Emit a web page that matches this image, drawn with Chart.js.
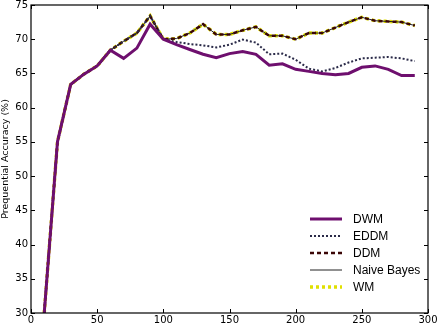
<!DOCTYPE html>
<html>
<head>
<meta charset="utf-8">
<script src="https://cdn.jsdelivr.net/npm/chart.js@4/dist/chart.umd.min.js"></script>
<style>
html,body{margin:0;padding:0;background:#fff;}
#wrap{width:440px;height:325px;}
</style>
</head>
<body>
<div id="wrap"><canvas id="c" width="440" height="325"></canvas></div>
<script>
const steps = [10,20,30,40,50,60,70,80,90,100,110,120,130,140,150,160,170,180,190,200,210,220,230,240,250,260,270,280,290];
const dwm  = [30,55,63.4,64.9,66.1,68.4,67.2,68.7,72.2,70.0,69.2,68.5,67.8,67.3,67.9,68.2,67.8,66.2,66.4,65.6,65.3,65.0,64.8,65.0,65.9,66.1,65.6,64.7,64.7];
const eddm = [30,55,63.4,64.9,66.1,68.4,69.7,70.9,73.4,70.0,69.6,69.3,69.1,68.8,69.2,69.95,69.5,67.8,67.9,67.0,65.7,65.3,65.8,66.6,67.2,67.3,67.4,67.2,66.8];
const ddm  = [30,55,63.4,64.9,66.1,68.4,69.7,70.9,73.4,70.0,70.1,70.9,72.2,70.7,70.7,71.3,71.8,70.5,70.5,70.0,70.9,70.9,71.7,72.5,73.2,72.7,72.6,72.5,72.0];
const naiveBayes = [30,55,63.4,64.9,66.1,68.4,69.7,70.9,73.4,70.0,70.1,70.9,72.2,70.7,70.7,71.3,71.8,70.5,70.5,70.0,70.9,70.9,71.7,72.5,73.2,72.7,72.6,72.5,72.0];
const wm   = [30,55,63.4,64.9,66.1,68.4,69.7,70.9,73.4,70.0,70.1,70.9,72.2,70.7,70.7,71.3,71.8,70.5,70.5,70.0,70.9,70.9,71.7,72.5,73.2,72.7,72.6,72.5,72.0];
const xTicks = [0,50,100,150,200,250,300];
const yTicks = [30,35,40,45,50,55,60,65,70,75];
const seriesNames = ['DWM','EDDM','DDM','Naive Bayes','WM'];

const pts = arr => arr.map((v,i)=>({x:steps[i], y:v}));

const frameTicks = {
  id:'frameTicks',
  afterDatasetsDraw(chart){
    const {ctx, chartArea:a, scales:{x,y}} = chart;
    ctx.save();
    ctx.strokeStyle='#000'; ctx.lineWidth=1;
    const L=4;
    ctx.beginPath();
    xTicks.forEach(v=>{
      const px=Math.round(x.getPixelForValue(v))+0.5;
      ctx.moveTo(px,a.bottom); ctx.lineTo(px,a.bottom-L);
      ctx.moveTo(px,a.top); ctx.lineTo(px,a.top+L);
    });
    yTicks.forEach(v=>{
      const py=Math.round(y.getPixelForValue(v))+0.5;
      ctx.moveTo(a.left,py); ctx.lineTo(a.left+L,py);
      ctx.moveTo(a.right,py); ctx.lineTo(a.right-L,py);
    });
    ctx.stroke();
    ctx.lineWidth=1.2;
    ctx.strokeRect(a.left,a.top,a.right-a.left,a.bottom-a.top);
    ctx.restore();
  }
};

const innerLegend = {
  id:'innerLegend',
  afterDraw(chart){
    const {ctx, chartArea:a} = chart;
    ctx.save();
    const x0=a.left+279, x1=x0+32, tx=x1+11;
    let yy=a.top+214;
    chart.data.datasets.forEach(ds=>{
      ctx.strokeStyle=ds.borderColor;
      ctx.lineWidth=ds.borderWidth;
      ctx.setLineDash(ds.borderDash||[]);
      ctx.beginPath(); ctx.moveTo(x0,yy); ctx.lineTo(x1,yy); ctx.stroke();
      ctx.setLineDash([]);
      ctx.fillStyle='#000';
      ctx.font='12px "Liberation Sans", Arial, sans-serif';
      ctx.textBaseline='middle';
      ctx.fillText(ds.label,tx,yy+1);
      yy+=17;
    });
    ctx.restore();
  }
};

new Chart(document.getElementById('c'),{
  type:'line',
  data:{datasets:[
    {label:seriesNames[0],data:pts(dwm),borderColor:'#6e0f6e',borderWidth:3,pointRadius:0,tension:0},
    {label:seriesNames[1],data:pts(eddm),borderColor:'#2a2a48',borderWidth:2,borderDash:[2,2],pointRadius:0,tension:0},
    {label:seriesNames[2],data:pts(ddm),borderColor:'#3a0505',borderWidth:2.5,borderDash:[4,3],pointRadius:0,tension:0},
    {label:seriesNames[3],data:pts(naiveBayes),borderColor:'#222222',borderWidth:1,pointRadius:0,tension:0},
    {label:seriesNames[4],data:pts(wm),borderColor:'#e0e000',borderWidth:3.5,borderDash:[3,3],pointRadius:0,tension:0}
  ]},
  options:{
    responsive:false,animation:false,
    layout:{padding:{top:5,right:12,left:0,bottom:0}},
    plugins:{legend:{display:false},tooltip:{enabled:false}},
    scales:{
      x:{type:'linear',min:0,max:300,
        afterBuildTicks:s=>{s.ticks=xTicks.map(v=>({value:v}));},
        afterFit:s=>{s.height=12;s.paddingLeft=0;s.paddingRight=0;},
        grid:{display:false,drawTicks:false},border:{display:false},
        ticks:{padding:1,color:'#000',maxRotation:0,font:{family:'"DejaVu Sans", sans-serif',size:10}}
      },
      y:{min:30,max:75,
        afterBuildTicks:s=>{s.ticks=yTicks.map(v=>({value:v}));},
        afterFit:s=>{s.width=31;s.paddingTop=0;s.paddingBottom=0;},
        grid:{display:false,drawTicks:false},border:{display:false},
        title:{display:true,text:'Prequential Accuracy (%)',color:'#000',padding:{top:0,bottom:2},font:{family:'"DejaVu Sans", sans-serif',size:9.5}},
        ticks:{padding:3,color:'#000',font:{family:'"DejaVu Sans", sans-serif',size:10}}
      }
    }
  },
  plugins:[frameTicks,innerLegend]
});
</script>
</body>
</html>
